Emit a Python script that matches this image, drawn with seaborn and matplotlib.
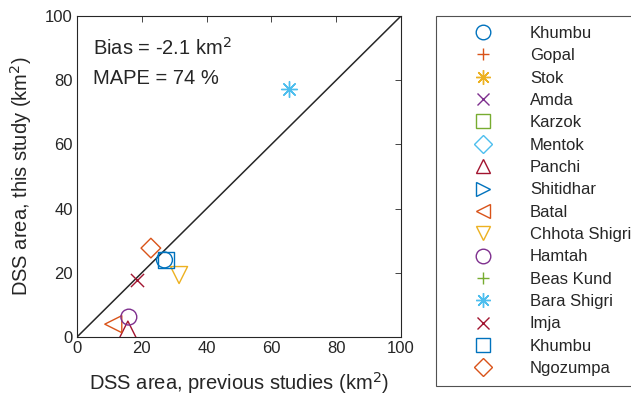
import matplotlib
matplotlib.use("Agg")
import matplotlib.pyplot as plt
from matplotlib.lines import Line2D
import seaborn as sns
import pandas as pd
import numpy as np

sns.set_theme(style="white")
plt.rcParams['font.family'] = ['Liberation Sans', 'DejaVu Sans']

names = ["Khumbu", "Gopal", "Stok", "Amda", "Karzok", "Mentok", "Panchi", "Shitidhar",
         "Batal", "Chhota Shigri", "Hamtah", "Beas Kund", "Bara Shigri", "Imja", "Khumbu", "Ngozumpa"]
prev_area = [27.0, np.nan, np.nan, np.nan, np.nan, np.nan, 15.7, np.nan,
             11.2, 31.5, 16.0, np.nan, 65.3, 18.5, 27.5, 22.8]
this_area = [24.0, np.nan, np.nan, np.nan, np.nan, np.nan, 2.3, np.nan,
             4.0, 19.3, 6.2, np.nan, 77.3, 17.8, 24.0, 27.7]

colors = ["#0072BD", "#D95319", "#EDB120", "#7E2F8E", "#77AC30", "#4DBEEE", "#A2142F", "#0072BD",
          "#D95319", "#EDB120", "#7E2F8E", "#77AC30", "#4DBEEE", "#A2142F", "#0072BD", "#D95319"]
markers = ["o", "+", (8, 2, 0), "x", "s", "D", "^", ">",
           "<", "v", "o", "+", (8, 2, 0), "x", "s", "D"]
line_markers = {"+", "x"}

df = pd.DataFrame({"name": names, "prev": prev_area, "this": this_area})

fig = plt.figure(figsize=(6.31, 4.03), dpi=100)
ax = fig.add_axes([77/631, 1-337/403, (401-77)/631, (337-16)/403])

ax.plot([0, 100], [0, 100], color="#262626", lw=1.1, zorder=1)

def msize(m):
    if m == "D":
        return 100
    if m in ("^", "v", "<", ">"):
        return 150
    if m in line_markers:
        return 90
    return 130

for i in range(len(df)):
    row = df.iloc[[i]]
    m = markers[i]
    if pd.isna(row["prev"].iloc[0]):
        continue
    if m in line_markers or isinstance(m, tuple):
        sns.scatterplot(data=row, x="prev", y="this", ax=ax, marker=m, color=colors[i],
                        s=msize(m), linewidth=1.0, legend=False, zorder=3)
    else:
        sns.scatterplot(data=row, x="prev", y="this", ax=ax, marker=m, facecolor="none",
                        edgecolor=colors[i], s=msize(m), linewidth=1.0, legend=False, zorder=3)

ax.set_xlim(0, 100)
ax.set_ylim(0, 100)
ax.set_xticks([0, 20, 40, 60, 80, 100])
ax.set_yticks([0, 20, 40, 60, 80, 100])
ax.tick_params(direction="in", length=4, width=0.6, top=True, right=True,
               labelsize=12, colors="#262626", pad=3)
for sp in ax.spines.values():
    sp.set_color("#262626")
    sp.set_linewidth(0.8)
ax.set_xlabel("DSS area, previous studies (km$^2$)", fontsize=14.5, color="#262626", labelpad=10)
ax.set_ylabel("DSS area, this study (km$^2$)", fontsize=14.5, color="#262626", labelpad=8)

ax.text(5, 90, "Bias = -2.1 km$^2$", fontsize=14.5, color="#262626", va="center")
ax.text(5, 80.5, "MAPE = 74 %", fontsize=14.5, color="#262626", va="center")

handles = []
for i in range(len(names)):
    m = markers[i]
    if m == "D":
        ms = 9
    elif m in line_markers:
        ms = 8.5
    else:
        ms = 10.5
    if m in line_markers or isinstance(m, tuple):
        h = Line2D([], [], linestyle="none", marker=m, color=colors[i], markersize=ms, markeredgewidth=1.0)
    else:
        h = Line2D([], [], linestyle="none", marker=m, markerfacecolor="none",
                   markeredgecolor=colors[i], markersize=ms, markeredgewidth=1.0)
    handles.append(h)

leg = fig.legend(handles, names, loc="upper left", bbox_to_anchor=(436/631, 1-16/403),
                 frameon=True, fancybox=False, fontsize=12, handlelength=4.43,
                 handletextpad=0.6, labelspacing=0.44, borderpad=0.6, borderaxespad=0,
                 edgecolor="#262626")
leg.get_frame().set_linewidth(0.8)
for t in leg.get_texts():
    t.set_color("#262626")

fig.savefig("out.png", dpi=100)
